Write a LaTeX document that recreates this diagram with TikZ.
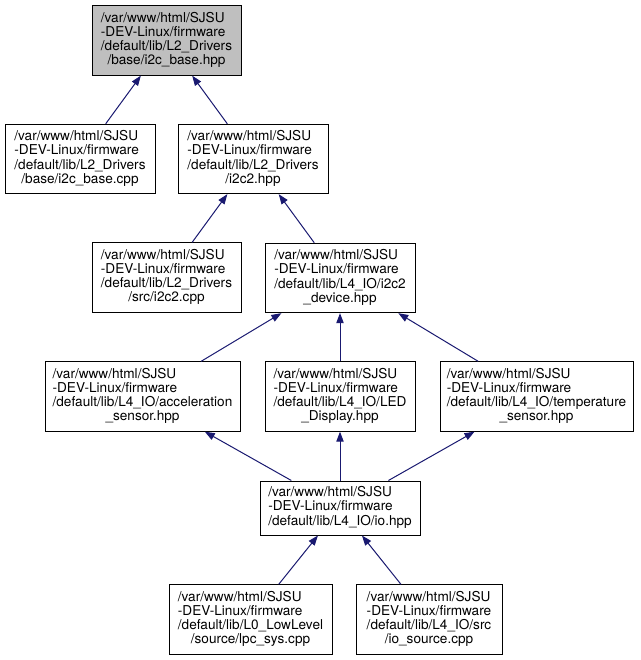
\documentclass[tikz,border=0pt]{standalone}
\usepackage{fontspec}
\setmainfont{TeX Gyre Heros}
\usetikzlibrary{arrows.meta}
\definecolor{edgeblue}{HTML}{191970}
\definecolor{rootgray}{HTML}{BFBFBF}
\newcommand{\filelabel}[4]{\begin{tabular}{@{}l@{}}#1\\#2\\#3\\\multicolumn{1}{@{}c@{}}{#4}\end{tabular}}
\newcommand{\shortlabel}[3]{\begin{tabular}{@{}l@{}}#1\\#2\\#3\end{tabular}}

\begin{document}
\begin{tikzpicture}[x=0.75pt,y=-0.75pt,
        file/.style={draw=black,line width=0.75pt,inner sep=0pt,minimum height=52pt,
            font=\fontsize{10.2}{10.5}\selectfont},
        dep/.style={draw=edgeblue,line width=0.75pt,{Triangle[length=7.5pt,width=5.5pt]}-}]
        \useasboundingbox (0,0) rectangle (640,660);
        \node[file,fill=rootgray,minimum width=111.75pt] (base_hpp) at (166.5,40.5)
            {\filelabel{/var/www/html/SJSU}{-DEV-Linux/firmware}{/default/lib/L2\_Drivers}{/base/i2c\_base.hpp}};
        \node[file,minimum width=112.5pt] (base_cpp) at (80,159)
            {\filelabel{/var/www/html/SJSU}{-DEV-Linux/firmware}{/default/lib/L2\_Drivers}{/base/i2c\_base.cpp}};
        \node[file,minimum width=112.5pt] (i2c2_hpp) at (253,159)
            {\filelabel{/var/www/html/SJSU}{-DEV-Linux/firmware}{/default/lib/L2\_Drivers}{/i2c2.hpp}};
        \node[file,minimum width=111.75pt] (i2c2_cpp) at (166.5,277.5)
            {\filelabel{/var/www/html/SJSU}{-DEV-Linux/firmware}{/default/lib/L2\_Drivers}{/src/i2c2.cpp}};
        \node[file,minimum width=112.5pt] (device) at (340,278)
            {\filelabel{/var/www/html/SJSU}{-DEV-Linux/firmware}{/default/lib/L4\_IO/i2c2}{\_device.hpp}};
        \node[file,minimum width=146.25pt] (accel) at (142.5,396.5)
            {\filelabel{/var/www/html/SJSU}{-DEV-Linux/firmware}{/default/lib/L4\_IO/acceleration}{\_sensor.hpp}};
        \node[file,minimum width=112.5pt] (led) at (340,396.5)
            {\filelabel{/var/www/html/SJSU}{-DEV-Linux/firmware}{/default/lib/L4\_IO/LED}{\_Display.hpp}};
        \node[file,minimum width=144.75pt] (temp) at (536.5,396.5)
            {\filelabel{/var/www/html/SJSU}{-DEV-Linux/firmware}{/default/lib/L4\_IO/temperature}{\_sensor.hpp}};
        \node[file,minimum width=120pt,minimum height=40.5pt] (io) at (340,508)
            {\shortlabel{/var/www/html/SJSU}{-DEV-Linux/firmware}{/default/lib/L4\_IO/io.hpp}};
        \node[file,minimum width=122.25pt] (lpc_sys) at (250.5,619.5)
            {\filelabel{/var/www/html/SJSU}{-DEV-Linux/firmware}{/default/lib/L0\_LowLevel}{/source/lpc\_sys.cpp}};
        \node[file,minimum width=109.5pt] (io_source) at (429,619.5)
            {\filelabel{/var/www/html/SJSU}{-DEV-Linux/firmware}{/default/lib/L4\_IO/src}{/io\_source.cpp}};
        \draw[dep] (base_hpp) -- (base_cpp);
        \draw[dep] (base_hpp) -- (i2c2_hpp);
        \draw[dep] (i2c2_hpp) -- (i2c2_cpp);
        \draw[dep] (i2c2_hpp) -- (device);
        \draw[dep] (device) -- (accel);
        \draw[dep] (device) -- (led);
        \draw[dep] (device) -- (temp);
        \draw[dep] (accel) -- (io);
        \draw[dep] (led) -- (io);
        \draw[dep] (temp) -- (io);
        \draw[dep] (io) -- (lpc_sys);
        \draw[dep] (io) -- (io_source);
    \end{tikzpicture}
\end{document}
